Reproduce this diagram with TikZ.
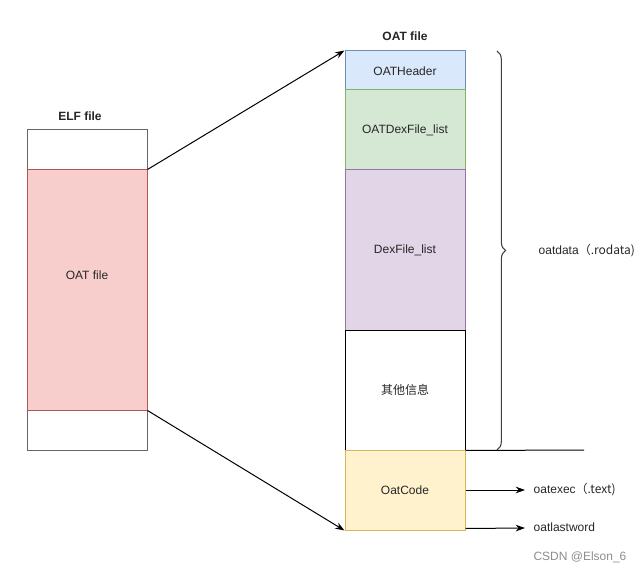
\documentclass[tikz,border=0pt]{standalone}
\usepackage{fontspec}
\setmainfont{Liberation Sans}
\newfontfamily\cjk{Noto Sans CJK SC}
\usetikzlibrary{arrows.meta,decorations.pathreplacing}
\definecolor{bfill}{HTML}{DAE8FC}\definecolor{bline}{HTML}{6C8EBF}
\definecolor{gfill}{HTML}{D5E8D4}\definecolor{gline}{HTML}{82B366}
\definecolor{pfill}{HTML}{E1D5E7}\definecolor{pline}{HTML}{9673A6}
\definecolor{rfill}{HTML}{F8CECC}\definecolor{rline}{HTML}{B85450}
\definecolor{yfill}{HTML}{FFF2CC}\definecolor{yline}{HTML}{D6B656}
\begin{document}
\begin{tikzpicture}[x=0.75pt,y=-0.75pt,
  every node/.style={font=\fontsize{9pt}{11pt}\selectfont, text=black!85},
  seg/.style={draw, rectangle, minimum width=90pt, inner sep=0pt, line width=0.75pt},
  conn/.style={line width=0.75pt, -{Stealth[length=7pt,width=5pt]}},
  ttl/.style={font=\fontsize{9pt}{11pt}\selectfont\bfseries}]
\useasboundingbox (0,0) rectangle (643,574);
% ELF file
\node[ttl] (elft) at (80,116) {ELF file};
\node[seg, draw=black!60, fill=white, minimum height=30pt] (e1) at (87,150) {};
\node[seg, draw=black!60, fill=white, minimum height=30pt] (e3) at (87,430) {};
\node[seg, draw=rline, fill=rfill, minimum height=180pt] (e2) at (87,290) {\raisebox{23pt}{OAT file}};
% OAT file
\node[ttl] (oatt) at (405,36) {OAT file};
\node[seg, draw=bline, fill=bfill, minimum height=30pt] (hdr) at (405,71) {OATHeader};
\node[seg, draw=gline, fill=gfill, minimum height=60pt] (odf) at (405,130) {OATDexFile\_list};
\node[seg, draw=pline, fill=pfill, minimum height=120pt] (dfl) at (405,250) {DexFile\_list};
\node[seg, draw=black, fill=white, minimum height=90pt] (oth) at (405,390) {\cjk 其他信息};
\node[seg, draw=yline, fill=yfill, minimum height=60pt] (code) at (405,490) {OatCode};
% connectors
\draw[conn] (e2.north east) -- (hdr.north west);
\draw[conn] (e2.south east) -- (code.south west);
% brace and line
\coordinate (lend) at (584,450);
\draw[line width=0.75pt] (oth.south east) -- (lend);
\coordinate (bt) at (497,51);
\coordinate (bb) at (497,450);
\draw[black!75, line width=0.8pt, decorate, decoration={brace, amplitude=6.5pt}] (bt) -- (bb);
\node[anchor=west] (rod) at (534,251) {oatdata\cjk{（}.rodata)};
% right arrows
\coordinate (a1) at (525,490);
\coordinate (c2) at ([yshift=1.5pt]code.south east);
\coordinate (a2) at (525,528);
\draw[conn] (code.east) -- (a1);
\draw[conn] (c2) -- (a2);
\node[anchor=west] (txt) at (529,490) {oatexec\cjk{（}.text)};
\node[anchor=west] (lw) at (529,527) {oatlastword};
\node[text=black!45] (wm) at (580,557) {CSDN @Elson\_6};
\end{tikzpicture}
\end{document}
